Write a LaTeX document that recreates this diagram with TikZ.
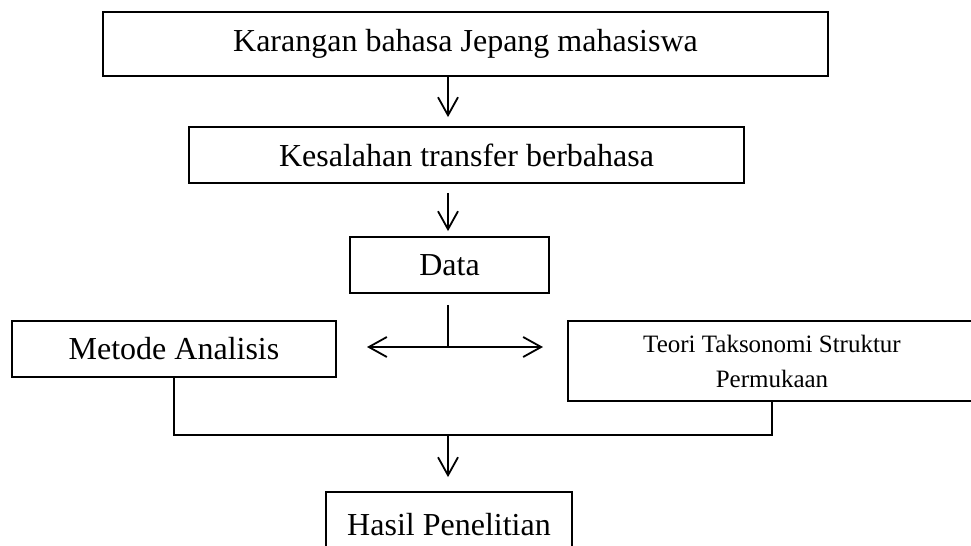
\documentclass[tikz,border=0pt]{standalone}
\usepackage{fontspec}
\setmainfont{Liberation Serif}
\usetikzlibrary{arrows.meta}

\tikzset{
	box/.style = {draw, line width=0.9pt, inner sep=0pt, font=\fontsize{16}{19}\selectfont},
	arr/.style = {line width=0.9pt, -{Straight Barb[length=9pt,width=10pt]}}
}

\begin{document}
\begin{tikzpicture}[x=0.5pt,y=-0.5pt]
			\useasboundingbox (0,0) rectangle (971,546);
			\clip (0,0) rectangle (971,546);

			\node[box, minimum width=362.5pt, minimum height=32pt] (karangan) at (465.5,44) {Karangan bahasa Jepang mahasiswa};
			\node[box, minimum width=277.5pt, minimum height=28pt] (kesalahan) at (466.5,155) {Kesalahan transfer berbahasa};
			\node[box, minimum width=99.5pt, minimum height=28pt] (data) at (449.5,265) {Data};
			\node[box, minimum width=162pt, minimum height=28pt] (metode) at (174,349) {Metode Analisis};
			\node[box, minimum width=204pt, minimum height=40pt, align=center,
				font=\fontsize{12.5}{17.5}\selectfont] (teori) at (772,361) {Teori Taksonomi Struktur\\Permukaan};
			\node[box, minimum width=123pt, minimum height=32.5pt] (hasil) at (449,524.5) {Hasil Penelitian};

			\coordinate (split) at (448,347);
			\coordinate (keMetode) at (367,347);
			\coordinate (keTeori) at (543,347);
			\coordinate (gabung) at (448,435);

			\draw[arr, shorten >=4.5pt] (karangan.south -| split) -- (kesalahan.north -| split);
			\draw[arr, shorten <=4.5pt, shorten >=2.5pt] (kesalahan.south -| split) -- (data.north -| split);
			\draw[line width=0.9pt, shorten <=5.5pt] (data.south -| split) -- (split);
			\draw[arr] (split) -- (keMetode);
			\draw[arr] (split) -- (keTeori);
			\draw[line width=0.9pt] (metode.south) |- (gabung) -| (teori.south);
			\draw[arr, shorten >=7pt] (gabung) -- (hasil.north -| gabung);

		\end{tikzpicture}
\end{document}
